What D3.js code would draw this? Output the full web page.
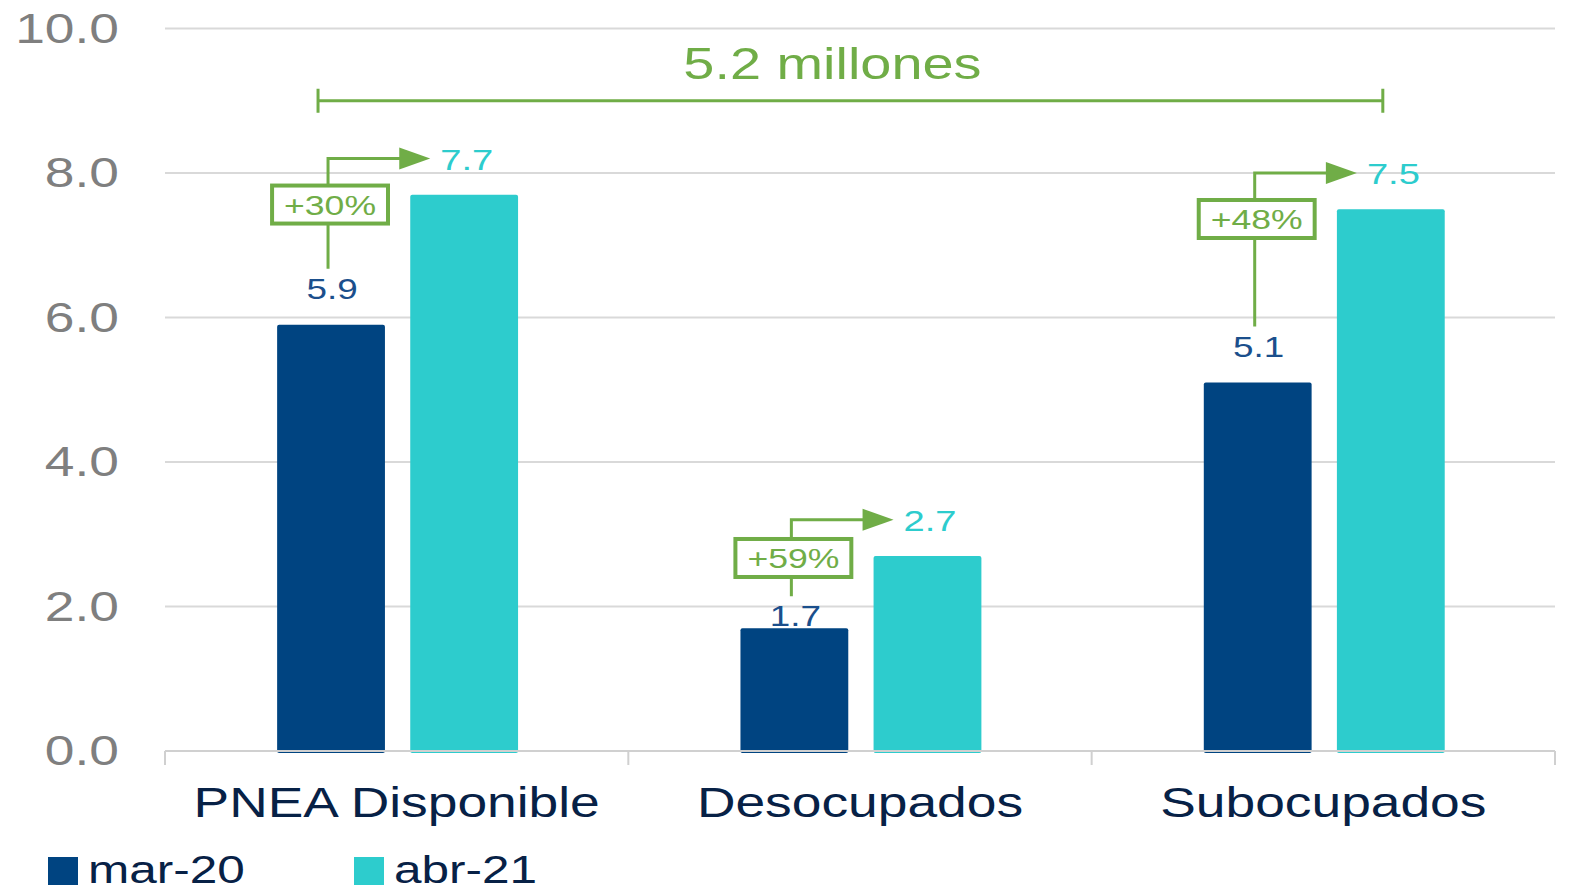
<!DOCTYPE html>
<html lang="es">
<head>
  <meta charset="UTF-8" />
  <title>PNEA, desocupados y subocupados</title>
  <script src="https://d3js.org/d3.v7.min.js"></script>
  <style>
    html, body {
      margin: 0;
      padding: 0;
      background: #fff;
      overflow: hidden;
    }
    svg {
      display: block;
      font-family: 'Liberation Sans', Arial, sans-serif;
    }
  </style>
</head>
<body>
  <svg id="chart" width="1570" height="893"></svg>

  <script>
    // values (millones de personas)
    const categories = ["PNEA Disponible", "Desocupados", "Subocupados"];
    const series = ["mar-20", "abr-21"];
    const mar20 = [5.9, 1.7, 5.1];
    const abr21 = [7.7, 2.7, 7.5];
    const changes = ["+30%", "+59%", "+48%"];
    const yTicks = [0, 2, 4, 6, 8, 10];
    const totalLabel = "5.2 millones";

    const navy = "#004481";
    const aqua = "#2dcccd";
    const green = "#70ad47";
    const ink = "#072146";
    const SX = 1.27; // the source picture is stretched horizontally

    const svg = d3.select("#chart");
    const left = 165, right = 1555;

    const x0 = d3.scaleBand().domain(categories).range([left, right]);
    const bw = x0.bandwidth();
    const x1 = d3.scaleBand().domain(series)
      .range([bw * 0.242, bw * 0.762])
      .paddingInner(0.19);
    const y = d3.scaleLinear().domain([0, 10]).range([751, 28.5]);
    const color = d3.scaleOrdinal().domain(series).range([navy, aqua]);

    function stext(g, x, yy, str, size, fill, anchor) {
      return g.append("text")
        .attr("transform", `translate(${x},${yy}) scale(${SX},1)`)
        .attr("text-anchor", anchor || "middle")
        .style("font-size", size + "px")
        .attr("fill", fill)
        .text(str);
    }

    // grid + y labels
    const grid = svg.append("g");
    yTicks.forEach(t => {
      if (t > 0) {
        grid.append("line")
          .attr("x1", left).attr("x2", right)
          .attr("y1", y(t)).attr("y2", y(t))
          .attr("stroke", "#d9d9d9").attr("stroke-width", 2);
      }
      stext(grid, 119, y(t) + 14, d3.format(".1f")(t), 42, "#7f7f7f", "end");
    });

    // bars
    const rows = categories.map((c, i) => ({ c, vals: [mar20[i], abr21[i]] }));
    const groups = svg.append("g").selectAll("g")
      .data(rows).join("g")
      .attr("transform", d => `translate(${x0(d.c)},0)`);

    groups.selectAll("rect")
      .data(d => d.vals.map((v, j) => ({ s: series[j], v })))
      .join("rect")
      .attr("x", d => x1(d.s))
      .attr("y", d => y(d.v))
      .attr("width", x1.bandwidth())
      .attr("height", d => y(0) - y(d.v) + 2)
      .attr("rx", 2)
      .attr("fill", d => color(d.s));

    // x axis
    const ax = svg.append("g");
    ax.append("line")
      .attr("x1", left).attr("x2", right)
      .attr("y1", y(0)).attr("y2", y(0))
      .attr("stroke", "#d0d0d0").attr("stroke-width", 2);
    [left].concat(categories.map(c => x0(c) + bw)).forEach(xx => {
      ax.append("line")
        .attr("x1", xx).attr("x2", xx)
        .attr("y1", y(0)).attr("y2", y(0) + 14)
        .attr("stroke", "#d0d0d0").attr("stroke-width", 2);
    });
    categories.forEach(c => {
      stext(ax, x0(c) + bw / 2, 817, c, 42, ink);
    });

    // change annotations
    const ann = svg.append("g");
    categories.forEach((c, i) => {
      const cx = x0(c) + x1("mar-20") + x1.bandwidth() / 2 - 3;
      const lx = x0(c) + x1("abr-21");
      const topY = y(abr21[i] + 0.5);
      // the 1.7 label sits on its bar in the source
      const labelBase = y(mar20[i]) - (mar20[i] < 2 ? 2 : 26);
      const bottom = labelBase - 30;

      ann.append("path")
        .attr("d", `M${cx},${bottom}V${topY}H${lx - 10}`)
        .attr("fill", "none").attr("stroke", green).attr("stroke-width", 3);
      ann.append("path")
        .attr("d", `M${lx - 11},${topY - 11}L${lx + 20},${topY}L${lx - 11},${topY + 11}Z`)
        .attr("fill", green);

      const by = topY + Math.min(46, (bottom - topY) / 2);
      const box = ann.append("rect").attr("fill", "#fff")
        .attr("stroke", green).attr("stroke-width", 4);
      const t = stext(ann, cx + 2, by + 10, changes[i], 28, green);
      const w = t.node().getBBox().width * SX + 24;
      box.attr("x", cx + 2 - w / 2).attr("y", by - 19)
        .attr("width", w).attr("height", 38);
      t.raise();

      stext(ann, cx + 4, labelBase, d3.format(".1f")(mar20[i]), 29, "#1b4f8c");
      stext(ann, lx + 30, topY + 11, d3.format(".1f")(abr21[i]), 30, aqua, "start");
    });

    // total bracket
    const bx1 = x0(categories[0]) + x1("mar-20") + x1.bandwidth() / 2 - 13;
    const lastC = categories[categories.length - 1];
    const bx2 = x0(lastC) + x1("abr-21") + x1.bandwidth() / 2 - 8;
    const byy = y(9);
    ann.append("path")
      .attr("d", `M${bx1},${byy - 12}V${byy + 12}M${bx1},${byy}H${bx2}M${bx2},${byy - 12}V${byy + 12}`)
      .attr("fill", "none").attr("stroke", green).attr("stroke-width", 3);
    stext(ann, (bx1 + bx2) / 2 - 18, byy - 22, totalLabel, 44, green);

    // legend
    const lg = svg.append("g");
    const legX = [48, 354];
    series.forEach((s, j) => {
      lg.append("rect")
        .attr("x", legX[j]).attr("y", 857)
        .attr("width", 30).attr("height", 28)
        .attr("fill", color(s));
      stext(lg, legX[j] + 40, 883, s, 39, ink, "start");
    });
  </script>
</body>
</html>
